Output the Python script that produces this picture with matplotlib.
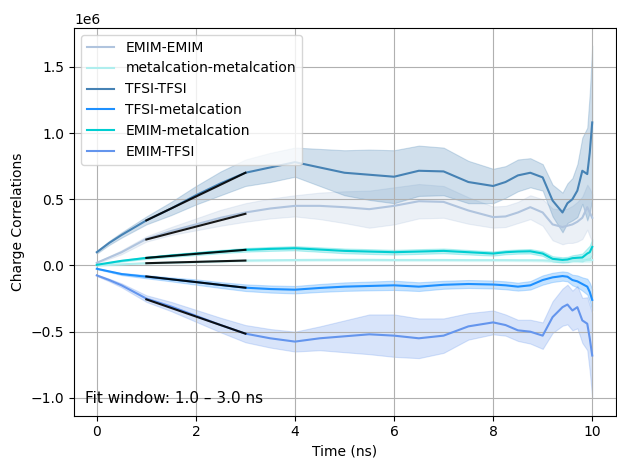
import matplotlib
matplotlib.use("Agg")
import matplotlib.pyplot as plt
import numpy as np

# ---- data (values in units of 1e6) ----
time_ns = [0, 0.25, 0.5, 1, 1.5, 2, 2.5, 3, 3.5, 4, 4.5, 5, 5.5, 6, 6.5, 7, 7.5, 8,
           8.25, 8.5, 8.75, 9, 9.2, 9.4, 9.5, 9.6, 9.7, 9.8, 9.9, 9.95, 10]

labels = ["EMIM-EMIM", "metalcation-metalcation", "TFSI-TFSI",
          "TFSI-metalcation", "EMIM-metalcation", "EMIM-TFSI"]
colors = ["lightsteelblue", "paleturquoise", "steelblue",
          "dodgerblue", "darkturquoise", "cornflowerblue"]

emim_emim = [0.02, 0.06, 0.10, 0.20, 0.26, 0.31, 0.36, 0.40, 0.43, 0.45, 0.45, 0.44, 0.425, 0.45,
             0.485, 0.48, 0.415, 0.365, 0.37, 0.40, 0.44, 0.40, 0.31, 0.29, 0.30, 0.31, 0.33,
             0.36, 0.44, 0.40, 0.36]
emim_emim_err = [0.005, 0.01, 0.015, 0.02, 0.03, 0.045, 0.06, 0.07, 0.075, 0.08, 0.10, 0.12, 0.14,
                 0.14, 0.13, 0.12, 0.10, 0.08, 0.08, 0.08, 0.09, 0.10, 0.12, 0.13, 0.13, 0.14,
                 0.15, 0.16, 0.17, 0.18, 0.18]

mc_mc = [0.0, 0.004, 0.008, 0.017, 0.022, 0.026, 0.032, 0.037, 0.039, 0.041, 0.042, 0.042, 0.042,
         0.041, 0.041, 0.041, 0.040, 0.040, 0.040, 0.039, 0.039, 0.038, 0.034, 0.032, 0.032, 0.034,
         0.035, 0.036, 0.038, 0.039, 0.040]
mc_mc_err = [0.002, 0.003, 0.004, 0.005, 0.006, 0.006, 0.007, 0.007, 0.007, 0.008, 0.008, 0.008,
             0.008, 0.008, 0.008, 0.008, 0.008, 0.008, 0.008, 0.008, 0.009, 0.009, 0.01, 0.01,
             0.01, 0.01, 0.011, 0.012, 0.013, 0.014, 0.015]

tfsi_tfsi = [0.10, 0.17, 0.23, 0.34, 0.43, 0.53, 0.62, 0.70, 0.74, 0.78, 0.74, 0.70, 0.685, 0.67,
             0.715, 0.71, 0.63, 0.60, 0.63, 0.68, 0.70, 0.665, 0.49, 0.40, 0.47, 0.50, 0.565,
             0.715, 0.69, 0.85, 1.08]
tfsi_tfsi_err = [0.01, 0.015, 0.02, 0.03, 0.05, 0.07, 0.09, 0.10, 0.11, 0.11, 0.14, 0.17, 0.19,
                 0.20, 0.19, 0.18, 0.16, 0.13, 0.12, 0.12, 0.11, 0.10, 0.12, 0.15, 0.15, 0.16,
                 0.20, 0.25, 0.35, 0.45, 0.58]

tfsi_mc = [-0.025, -0.045, -0.065, -0.085, -0.105, -0.125, -0.148, -0.168, -0.178, -0.183, -0.17,
           -0.16, -0.155, -0.15, -0.16, -0.146, -0.14, -0.144, -0.15, -0.16, -0.15, -0.11, -0.09,
           -0.08, -0.085, -0.11, -0.12, -0.14, -0.16, -0.20, -0.26]
tfsi_mc_err = [0.003, 0.005, 0.008, 0.012, 0.015, 0.02, 0.022, 0.025, 0.027, 0.028, 0.03, 0.032,
               0.033, 0.035, 0.033, 0.03, 0.03, 0.03, 0.03, 0.03, 0.032, 0.035, 0.035, 0.035,
               0.035, 0.04, 0.045, 0.05, 0.06, 0.07, 0.08]

emim_mc = [0.005, 0.02, 0.035, 0.057, 0.075, 0.09, 0.105, 0.118, 0.125, 0.13, 0.12, 0.11, 0.105,
           0.10, 0.105, 0.11, 0.10, 0.09, 0.10, 0.105, 0.107, 0.09, 0.05, 0.042, 0.045, 0.055,
           0.058, 0.06, 0.09, 0.10, 0.14]
emim_mc_err = [0.003, 0.004, 0.006, 0.008, 0.01, 0.012, 0.013, 0.014, 0.015, 0.016, 0.017, 0.018,
               0.018, 0.018, 0.018, 0.018, 0.017, 0.016, 0.016, 0.016, 0.017, 0.018, 0.02, 0.02,
               0.02, 0.022, 0.025, 0.03, 0.04, 0.05, 0.06]

emim_tfsi = [-0.075, -0.11, -0.15, -0.25, -0.31, -0.38, -0.45, -0.515, -0.55, -0.575, -0.55,
             -0.535, -0.52, -0.53, -0.55, -0.53, -0.46, -0.43, -0.45, -0.49, -0.50, -0.53, -0.39,
             -0.315, -0.295, -0.34, -0.315, -0.415, -0.44, -0.55, -0.68]
emim_tfsi_err = [0.005, 0.01, 0.015, 0.025, 0.035, 0.045, 0.055, 0.065, 0.07, 0.075, 0.09, 0.12,
                 0.15, 0.16, 0.15, 0.13, 0.10, 0.09, 0.08, 0.08, 0.09, 0.10, 0.12, 0.14, 0.15,
                 0.15, 0.16, 0.17, 0.20, 0.25, 0.32]

# linear fits over the 1-3 ns window (endpoint values)
fit_t = [1.0, 3.0]
fit_emim_emim = [0.196, 0.39]
fit_mc_mc = [0.017, 0.037]
fit_tfsi_tfsi = [0.34, 0.70]
fit_tfsi_mc = [-0.083, -0.168]
fit_emim_mc = [0.057, 0.118]
fit_emim_tfsi = [-0.256, -0.515]

means = [emim_emim, mc_mc, tfsi_tfsi, tfsi_mc, emim_mc, emim_tfsi]
errs = [emim_emim_err, mc_mc_err, tfsi_tfsi_err, tfsi_mc_err, emim_mc_err, emim_tfsi_err]
fits = [fit_emim_emim, fit_mc_mc, fit_tfsi_tfsi, fit_tfsi_mc, fit_emim_mc, fit_emim_tfsi]

scale = 1e6

fig = plt.figure(figsize=(6.17, 4.59), dpi=100)
ax = fig.add_axes([74 / 617, 1 - 415.5 / 459, (616 - 74) / 617, (415.5 - 28) / 459])

t = np.array(time_ns)
for lab, col, m, e in zip(labels, colors, means, errs):
    m = np.array(m) * scale
    e = np.array(e) * scale
    ax.fill_between(t, m - e, m + e, color=col, alpha=0.25, linewidth=0.8)
    ax.plot(t, m, color=col, lw=1.5, label=lab)

for f in fits:
    ax.plot(fit_t, np.array(f) * scale, color="black", lw=1.5, alpha=0.9)

ax.set_xlim(-0.46, 10.48)
ax.set_xlabel("Time (ns)")
ax.set_ylabel("Charge Correlations")
ax.grid(True)
ax.legend(loc="upper left")
ax.text(0.02, 0.025, "Fit window: 1.0 – 3.0 ns", transform=ax.transAxes, fontsize=11,
        ha="left", va="bottom")

fig.savefig("out.png", dpi=100)
